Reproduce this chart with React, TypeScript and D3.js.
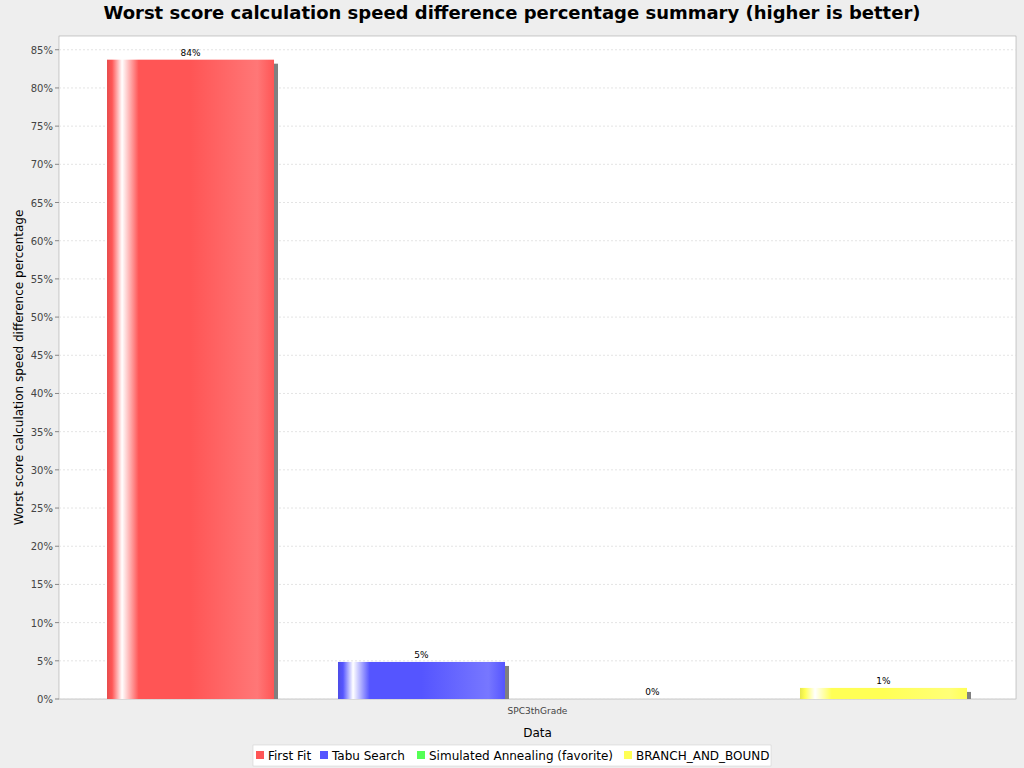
import { useEffect } from "react";
import * as d3 from "d3";

const categories = ["SPC3thGrade"];
const series = ["First Fit", "Tabu Search", "Simulated Annealing (favorite)", "BRANCH_AND_BOUND"];
const colors = ["#ff5555", "#5555ff", "#55ff55", "#ffff55"];
const values = [83.7, 4.85, 0.0, 1.45];
const labels = ["84%", "5%", "0%", "1%"];
const yTicks = d3.range(0, 90, 5);

const W = 1024, H = 768;
const left = 59, right = 1016, top = 36, bottom = 699;

export default function App() {
  useEffect(() => {
    document.body.style.margin = "0";
  }, []);

  const y = d3.scaleLinear().domain([0, 86.8]).range([bottom, top]);
  const xCat = d3.scaleBand().domain(categories).range([left, right]);
  const xSer = d3.scaleBand().domain(series).range([107, 967]).paddingInner(0.277);
  const font = "'DejaVu Sans', sans-serif";

  return (
    <svg width={W} height={H} style={{ display: "block", fontFamily: font }}>
      <defs>
        {colors.map((c, i) => {
          const light = d3.interpolateRgb(c, "#ffffff")(0.2);
          const dark = d3.interpolateRgb(c, "#000000")(0.1);
          return (
            <linearGradient key={i} id={`g${i}`} x1="0" x2="1" y1="0" y2="0">
              <stop offset="0" stopColor={dark} />
              <stop offset="0.03" stopColor={c} />
              <stop offset="0.09" stopColor="#ffffff" />
              <stop offset="0.19" stopColor={c} />
              <stop offset="0.5" stopColor={c} />
              <stop offset="0.9" stopColor={light} />
              <stop offset="1" stopColor={c} />
            </linearGradient>
          );
        })}
      </defs>
      <rect width={W} height={H} fill="#eeeeee" />
      <text x={W / 2} y={19} textAnchor="middle" fontSize={18} fontWeight="bold">
        Worst score calculation speed difference percentage summary (higher is better)
      </text>
      <rect x={left} y={top} width={right - left} height={bottom - top} fill="#ffffff" stroke="#999" strokeWidth={0.5} />
      {yTicks.map(t => (
        <g key={t}>
          <line x1={left} x2={right} y1={y(t)} y2={y(t)} stroke="#dddddd" strokeDasharray="2,2" strokeWidth={0.8} />
          <line x1={left - 4} x2={left} y1={y(t)} y2={y(t)} stroke="#888" />
          <text x={left - 6} y={y(t) + 4} textAnchor="end" fontSize={10} fill="#444">{t}%</text>
        </g>
      ))}
      {series.map((s, i) => {
        const x = xSer(s)!;
        const w = xSer.bandwidth();
        const yv = y(values[i]);
        return (
          <g key={s}>
            {values[i] > 0 && (
              <rect x={x + 4} y={yv + 4} width={w} height={bottom - yv - 4} fill="#808080" />
            )}
            <rect x={x} y={yv} width={w} height={bottom - yv} fill={`url(#g${i})`} />
            <text x={x + w / 2} y={yv - 4} textAnchor="middle" fontSize={9} fill="#000">{labels[i]}</text>
          </g>
        );
      })}
      {categories.map(c => (
        <text key={c} x={xCat(c)! + xCat.bandwidth() / 2} y={714} textAnchor="middle" fontSize={9} fill="#444">{c}</text>
      ))}
      <text x={(left + right) / 2} y={737} textAnchor="middle" fontSize={12}>Data</text>
      <text transform={`translate(23,${(top + bottom) / 2}) rotate(-90)`} textAnchor="middle" fontSize={12}>
        Worst score calculation speed difference percentage
      </text>
      <rect x={253} y={745} width={518} height={21} fill="#fff" stroke="#ccc" strokeWidth={0.5} />
      {(() => {
        const xs = [256, 320, 417, 624];
        return series.map((s, i) => (
          <g key={s}>
            <rect x={xs[i]} y={751} width={8} height={8} fill={colors[i]} />
            <text x={xs[i] + 12} y={760} fontSize={12}>{s}</text>
          </g>
        ));
      })()}
    </svg>
  );
}
